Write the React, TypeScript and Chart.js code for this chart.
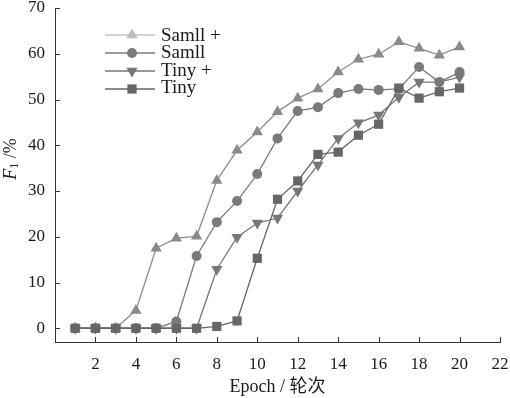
import React, { useEffect, useRef } from "react";
import { Chart, registerables } from "chart.js";

Chart.register(...registerables);

const epochs = [1, 2, 3, 4, 5, 6, 7, 8, 9, 10, 11, 12, 13, 14, 15, 16, 17, 18, 19, 20];
const samllPlus = [0, 0, 0, 3.9, 17.5, 19.7, 20.1, 32.3, 38.9, 42.9, 47.3, 50.3, 52.3, 56.0, 58.8, 59.9, 62.6, 61.2, 59.7, 61.5];
const samll = [0, 0, 0, 0, 0, 1.5, 15.8, 23.2, 27.8, 33.7, 41.5, 47.5, 48.3, 51.4, 52.3, 52.1, 52.3, 57.1, 53.8, 56.0];
const tinyPlus = [0, 0, 0, 0, 0, 0, 0, 12.9, 19.9, 23.0, 24.1, 30.0, 35.7, 41.5, 44.9, 46.6, 50.5, 53.8, 53.8, 54.9];
const tiny = [0, 0, 0, 0, 0, 0, 0, 0.4, 1.6, 15.3, 28.2, 32.2, 38.0, 38.5, 42.2, 44.6, 52.5, 50.3, 51.7, 52.5];

const seriesLabels = ["Samll +", "Samll", "Tiny +", "Tiny"];
const xTicks = [2, 4, 6, 8, 10, 12, 14, 16, 18, 20, 22];
const yTicks = [0, 10, 20, 30, 40, 50, 60, 70];

const SERIF = '"Liberation Serif", "Times New Roman", serif';

type Style = { color: string; pointColor: string; shape: string; rot: number; radius: number; legendColor: string; legendPoint: string };
const styles: Style[] = [
  { color: "#8c8c8c", pointColor: "#8a8a8a", shape: "triangle", rot: 0, radius: 6.5, legendColor: "#c4c4c4", legendPoint: "#bdbdbd" },
  { color: "#7a7a7a", pointColor: "#7a7a7a", shape: "circle", rot: 0, radius: 5, legendColor: "#7a7a7a", legendPoint: "#7a7a7a" },
  { color: "#777777", pointColor: "#777777", shape: "triangle", rot: 180, radius: 6.5, legendColor: "#777777", legendPoint: "#777777" },
  { color: "#666666", pointColor: "#666666", shape: "rect", rot: 0, radius: 6.5, legendColor: "#666666", legendPoint: "#666666" },
];

function drawMarker(ctx: CanvasRenderingContext2D, shape: string, rot: number, x: number, y: number, r: number) {
  ctx.beginPath();
  if (shape === "circle") {
    ctx.arc(x, y, r, 0, Math.PI * 2);
  } else if (shape === "rect") {
    const s = Math.SQRT1_2 * r;
    ctx.rect(x - s, y - s, 2 * s, 2 * s);
  } else {
    const sgn = rot === 180 ? -1 : 1;
    const h = r * Math.sqrt(3) / 2;
    ctx.moveTo(x, y - sgn * r);
    ctx.lineTo(x - h, y + sgn * r / 2);
    ctx.lineTo(x + h, y + sgn * r / 2);
    ctx.closePath();
  }
  ctx.fill();
}

const decorPlugin = {
  id: "decor",
  afterDraw(chart: any) {
    const ctx: CanvasRenderingContext2D = chart.ctx;
    const { left, top, bottom } = chart.chartArea;
    const xs = chart.scales.x;
    const ys = chart.scales.y;
    ctx.save();
    // inward tick marks
    ctx.strokeStyle = "#333";
    ctx.lineWidth = 1;
    ctx.beginPath();
    xTicks.forEach((v) => {
      const px = Math.round(xs.getPixelForValue(v)) + 0.5;
      ctx.moveTo(px, bottom);
      ctx.lineTo(px, bottom - 5);
    });
    yTicks.forEach((v) => {
      const py = Math.round(ys.getPixelForValue(v)) + 0.5;
      ctx.moveTo(left, py);
      ctx.lineTo(left + 5, py);
    });
    ctx.stroke();

    // legend
    const lx0 = left + 50;
    const lx1 = left + 100;
    const mx = left + 77;
    const tx = left + 106;
    ctx.font = `19px ${SERIF}`;
    ctx.textBaseline = "middle";
    ctx.textAlign = "left";
    seriesLabels.forEach((lab, i) => {
      const st = styles[i];
      const y = top + 27 + i * 18;
      ctx.strokeStyle = st.legendColor;
      ctx.lineWidth = 1.3;
      ctx.beginPath();
      ctx.moveTo(lx0, y);
      ctx.lineTo(lx1, y);
      ctx.stroke();
      ctx.fillStyle = st.legendPoint;
      drawMarker(ctx, st.shape, st.rot, mx, y, st.radius);
      ctx.fillStyle = "#1a1a1a";
      ctx.fillText(lab, tx, top + 28 + i * 17.4);
    });

    // y title: F1 /%
    ctx.translate(11, 159);
    ctx.rotate(-Math.PI / 2);
    ctx.fillStyle = "#1a1a1a";
    ctx.textBaseline = "middle";
    ctx.font = `italic 18px ${SERIF}`;
    const wF = ctx.measureText("F").width;
    ctx.font = `12px ${SERIF}`;
    const w1 = ctx.measureText("1").width;
    ctx.font = `18px ${SERIF}`;
    const wR = ctx.measureText(" /%").width;
    let x = -(wF + w1 + wR) / 2;
    ctx.font = `italic 18px ${SERIF}`;
    ctx.fillText("F", x, 0);
    x += wF;
    ctx.font = `12px ${SERIF}`;
    ctx.fillText("1", x, 4);
    x += w1;
    ctx.font = `18px ${SERIF}`;
    ctx.fillText(" /%", x, 0);
    ctx.restore();
  },
};

export default function App() {
  const ref = useRef<HTMLCanvasElement | null>(null);
  useEffect(() => {
    document.body.style.margin = "0";
    const canvas = ref.current;
    if (!canvas) return;
    const datasetsSrc = [samllPlus, samll, tinyPlus, tiny];
    const orders = [3, 2, 1, 0];
    const chart = new Chart(canvas, {
      type: "line",
      data: {
        datasets: datasetsSrc.map((arr, i) => ({
          label: seriesLabels[i],
          data: epochs.map((e, j) => ({ x: e, y: arr[j] })),
          borderColor: styles[i].color,
          backgroundColor: styles[i].pointColor,
          pointBackgroundColor: styles[i].pointColor,
          pointBorderColor: styles[i].pointColor,
          pointBorderWidth: 0,
          pointStyle: styles[i].shape as any,
          pointRotation: styles[i].rot,
          pointRadius: styles[i].radius,
          borderWidth: 1.3,
          tension: 0,
          order: orders[i],
        })),
      },
      options: {
        animation: false,
        responsive: false,
        devicePixelRatio: 1,
        layout: { padding: { top: 8, right: 10, left: 0, bottom: 0 } },
        plugins: {
          legend: { display: false },
          tooltip: { enabled: false },
        },
        scales: {
          x: {
            type: "linear",
            min: 0,
            max: 22,
            afterBuildTicks: (s: any) => {
              s.ticks = xTicks.map((v) => ({ value: v }));
            },
            afterFit: (s: any) => {
              s.height = 56;
              s.paddingLeft = 0;
              s.paddingRight = 0;
            },
            grid: { display: false, drawTicks: false },
            border: { display: true, color: "#333", width: 1 },
            ticks: {
              padding: 12,
              color: "#1a1a1a",
              font: { family: SERIF, size: 17 },
              maxRotation: 0,
              autoSkip: false,
            },
            title: {
              display: true,
              text: "Epoch / 轮次",
              color: "#1a1a1a",
              font: { family: '"Liberation Serif", "Noto Sans CJK SC", serif', size: 18 },
              padding: { top: 0, bottom: 0 },
            },
          },
          y: {
            type: "linear",
            min: -3,
            max: 70,
            afterBuildTicks: (s: any) => {
              s.ticks = yTicks.map((v) => ({ value: v }));
            },
            afterFit: (s: any) => {
              s.width = 55;
              s.paddingTop = 0;
              s.paddingBottom = 0;
            },
            grid: { display: false, drawTicks: false },
            border: { display: true, color: "#333", width: 1 },
            ticks: {
              padding: 10,
              color: "#1a1a1a",
              font: { family: SERIF, size: 17 },
              autoSkip: false,
            },
          },
        },
      },
      plugins: [decorPlugin],
    });
    return () => chart.destroy();
  }, []);
  return (
    <div style={{ width: 510, height: 398, background: "#fff" }}>
      <canvas ref={ref} width={510} height={398} style={{ display: "block" }} />
    </div>
  );
}
